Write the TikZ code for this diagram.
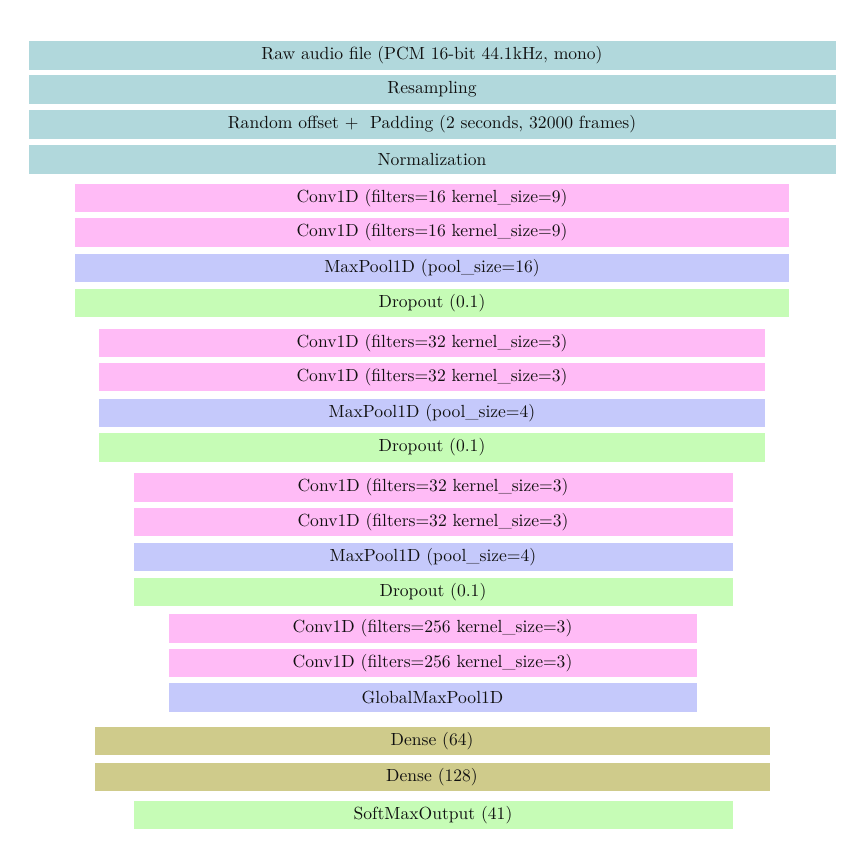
\documentclass[tikz,border=0pt]{standalone}
\usepackage{xcolor}
\definecolor{preteal}{HTML}{B1D8DC}
\definecolor{convpink}{HTML}{FFBBF6}
\definecolor{poolblue}{HTML}{C5C9FB}
\definecolor{dropgreen}{HTML}{C6FCB6}
\definecolor{denseolive}{HTML}{CFCB8B}
\definecolor{textdark}{HTML}{111111}
\usepackage{tikz}
\usetikzlibrary{positioning}

\tikzset{
  layer/.style={rectangle, inner sep=0pt, minimum height=0.59cm, text=textdark, font=\normalsize, draw=white, line width=0.4pt},
  prep/.style={layer, fill=preteal},
  conv/.style={layer, fill=convpink},
  pool/.style={layer, fill=poolblue},
  drop/.style={layer, fill=dropgreen},
  dense/.style={layer, fill=denseolive}
}

\begin{document}
\begin{tikzpicture}[x=0.02cm, y=-0.02cm]
        \useasboundingbox[fill=white] (0,0) rectangle (865,865);
        % input and preprocessing
        \node[prep, minimum width=16.16cm] (raw) at (432,55.5) {Raw audio file (PCM 16-bit 44.1kHz, mono)};
        \node[prep, minimum width=16.16cm] (resample) at (432,89.5) {Resampling};
        \node[prep, minimum width=16.16cm] (offset) at (432,124.5) {Random offset +\ \ Padding (2 seconds, 32000 frames)};
        \node[prep, minimum width=16.16cm] (norm) at (432,159.5) {Normalization};
        % block 1
        \node[conv, minimum width=14.3cm] (convA1) at (432,198) {Conv1D (filters=16 kernel\_size=9)};
        \node[conv, minimum width=14.3cm] (convA2) at (432,232.5) {Conv1D (filters=16 kernel\_size=9)};
        \node[pool, minimum width=14.3cm] (poolA) at (432,268) {MaxPool1D (pool\_size=16)};
        \node[drop, minimum width=14.3cm] (dropA) at (432,303) {Dropout (0.1)};
        % block 2
        \node[conv, minimum width=13.34cm] (convB1) at (432,343) {Conv1D (filters=32 kernel\_size=3)};
        \node[conv, minimum width=13.34cm] (convB2) at (432,377) {Conv1D (filters=32 kernel\_size=3)};
        \node[pool, minimum width=13.34cm] (poolB) at (432,413) {MaxPool1D (pool\_size=4)};
        \node[drop, minimum width=13.34cm] (dropB) at (432,447.5) {Dropout (0.1)};
        % block 3
        \node[conv, minimum width=12cm] (convC1) at (433,487.5) {Conv1D (filters=32 kernel\_size=3)};
        \node[conv, minimum width=12cm] (convC2) at (433,522) {Conv1D (filters=32 kernel\_size=3)};
        \node[pool, minimum width=12cm] (poolC) at (433,557) {MaxPool1D (pool\_size=4)};
        \node[drop, minimum width=12cm] (dropC) at (433,592) {Dropout (0.1)};
        % block 4
        \node[conv, minimum width=10.58cm] (convD1) at (432.5,628.5) {Conv1D (filters=256 kernel\_size=3)};
        \node[conv, minimum width=10.58cm] (convD2) at (432.5,663) {Conv1D (filters=256 kernel\_size=3)};
        \node[pool, minimum width=10.58cm] (globpool) at (432.5,697.5) {GlobalMaxPool1D};
        % classifier
        \node[dense, minimum width=13.52cm] (dense1) at (432,741) {Dense (64)};
        \node[dense, minimum width=13.52cm] (dense2) at (432,777) {Dense (128)};
        \node[drop, minimum width=12cm] (output) at (433,815) {SoftMaxOutput (41)};
      \end{tikzpicture}
\end{document}
